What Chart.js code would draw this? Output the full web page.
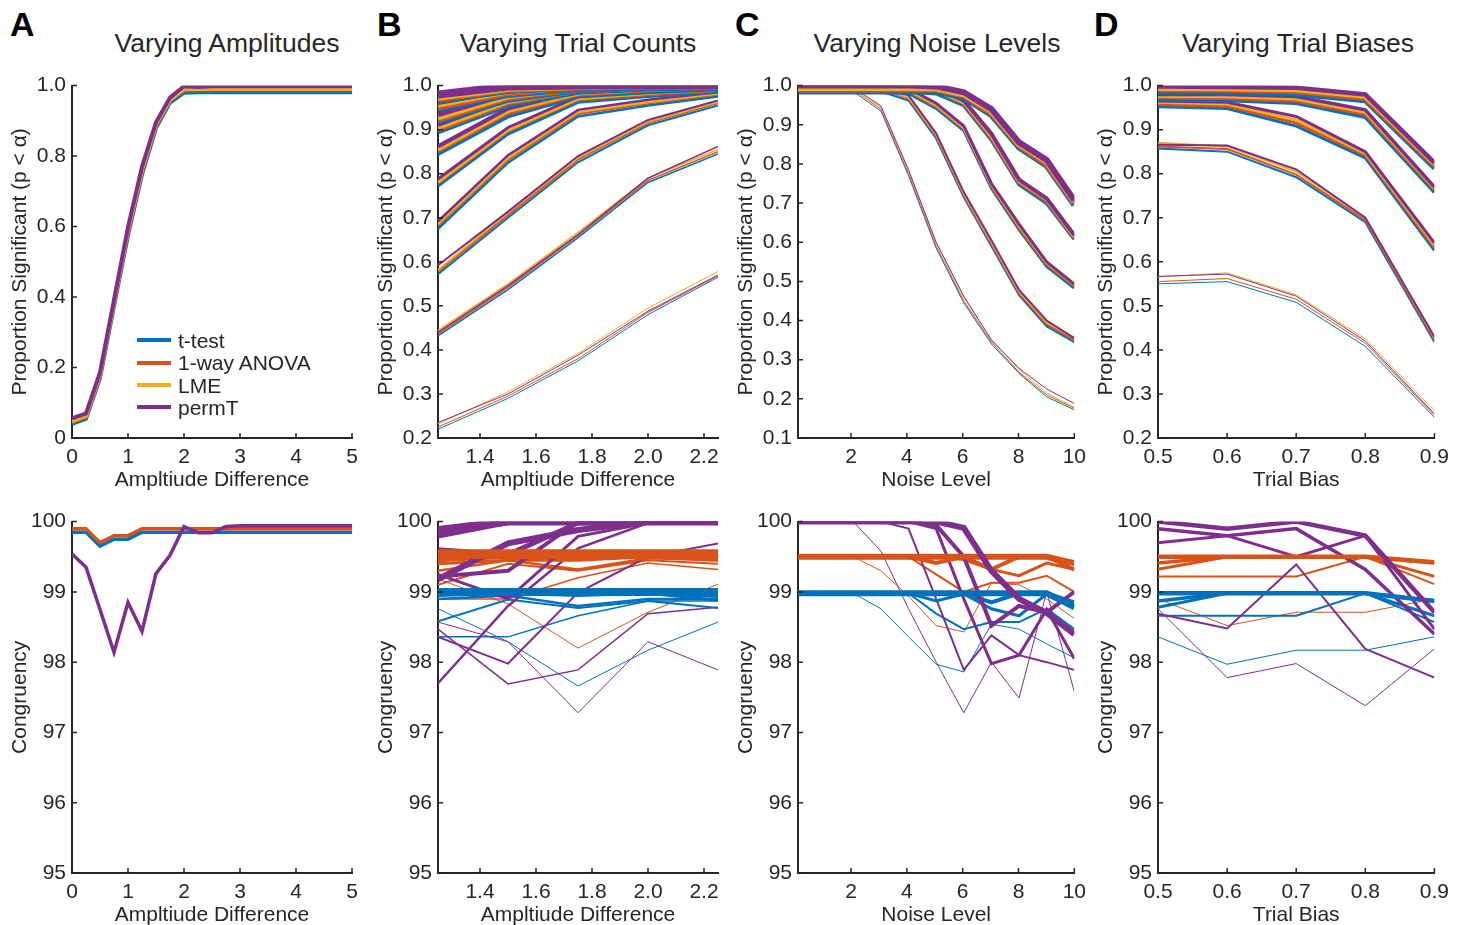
<!DOCTYPE html>
<html lang="en">
<head>
    <meta charset="UTF-8">
    <title>Simulation results</title>
    <script src="https://cdn.jsdelivr.net/npm/chart.js"></script>
    <style>
        body {
            margin: 0;
            width: 1465px;
            height: 925px;
            position: relative;
            background: #ffffff;
            font-family: "Liberation Sans", Arial, sans-serif;
            color: #262626;
            overflow: hidden;
        }
        canvas { position: absolute; }
        .letter {
            position: absolute;
            font-weight: bold;
            font-size: 34px;
            color: #000;
        }
        .title {
            position: absolute;
            font-size: 26.5px;
            transform: translateX(-50%);
            white-space: nowrap;
        }
        .legend {
            position: absolute;
            left: 137px;
            top: 330px;
            font-size: 21px;
            line-height: 22.3px;
        }
        .legend span {
            display: inline-block;
            width: 34px;
            height: 4px;
            margin-right: 7px;
            vertical-align: middle;
            position: relative;
            top: -2px;
        }
    </style>
</head>
<body>

<div class="letter" style="left:10px; top:5px;">A</div>
<div class="letter" style="left:377px; top:5px;">B</div>
<div class="letter" style="left:735px; top:5px;">C</div>
<div class="letter" style="left:1094px; top:5px;">D</div>

<div class="title" style="left:227px; top:28px;">Varying Amplitudes</div>
<div class="title" style="left:578px; top:28px;">Varying Trial Counts</div>
<div class="title" style="left:937px; top:28px;">Varying Noise Levels</div>
<div class="title" style="left:1298px; top:28px;">Varying Trial Biases</div>

<canvas id="aPow"></canvas>
<canvas id="bPow"></canvas>
<canvas id="cPow"></canvas>
<canvas id="dPow"></canvas>
<canvas id="aCon"></canvas>
<canvas id="bCon"></canvas>
<canvas id="cCon"></canvas>
<canvas id="dCon"></canvas>

<div class="legend">
    <div><span style="background:#0072BD"></span>t-test</div>
    <div><span style="background:#D95319"></span>1-way ANOVA</div>
    <div><span style="background:#EDB120"></span>LME</div>
    <div><span style="background:#7E2F8E"></span>permT</div>
</div>

<script>
// ---- x values ----
const xA = [0, 0.25, 0.5, 0.75, 1, 1.25, 1.5, 1.75, 2, 2.25, 2.5, 2.75, 3, 3.25, 3.5, 3.75, 4, 4.25, 4.5, 4.75, 5];
const xB = [1.25, 1.5, 1.75, 2.0, 2.25];
const xC = [0.1, 1.09, 2.08, 3.07, 4.06, 5.05, 6.04, 7.03, 8.02, 9.01, 10];
const xD = [0.5, 0.6, 0.7, 0.8, 0.9];

// ---- tick labels ----
const xTicksA = [0, 1, 2, 3, 4, 5];
const xTicksB = [1.4, 1.6, 1.8, 2.0, 2.2];
const xTicksC = [2, 4, 6, 8, 10];
const xTicksD = [0.5, 0.6, 0.7, 0.8, 0.9];
const yTicksA = [0, 0.2, 0.4, 0.6, 0.8, 1.0];
const yTicksB = [0.2, 0.3, 0.4, 0.5, 0.6, 0.7, 0.8, 0.9, 1.0];
const yTicksC = [0.1, 0.2, 0.3, 0.4, 0.5, 0.6, 0.7, 0.8, 0.9, 1.0];
const yTicksD = [0.2, 0.3, 0.4, 0.5, 0.6, 0.7, 0.8, 0.9, 1.0];
const yTicksCon = [95, 96, 97, 98, 99, 100];

// ---- A: varying amplitudes ----
const aPowT = [0.040, 0.055, 0.170, 0.375, 0.575, 0.748, 0.880, 0.952, 0.980, 0.981, 0.981, 0.981, 0.981, 0.981, 0.981, 0.981, 0.981, 0.981, 0.981, 0.981, 0.981];
const aPowF = [0.045, 0.060, 0.176, 0.382, 0.584, 0.756, 0.887, 0.958, 0.987, 0.987, 0.988, 0.988, 0.988, 0.988, 0.988, 0.988, 0.988, 0.988, 0.988, 0.988, 0.988];
const aPowL = [0.048, 0.063, 0.180, 0.386, 0.590, 0.762, 0.890, 0.960, 0.990, 0.990, 0.991, 0.991, 0.991, 0.991, 0.991, 0.991, 0.991, 0.991, 0.991, 0.991, 0.991];
const aPowP = [0.056, 0.070, 0.186, 0.392, 0.598, 0.770, 0.896, 0.966, 0.998, 0.996, 0.998, 0.998, 0.998, 0.998, 0.998, 0.998, 0.998, 0.998, 0.998, 0.998, 0.998];
const aConT = [99.85, 99.85, 99.65, 99.75, 99.75, 99.85, 99.85, 99.85, 99.85, 99.85, 99.85, 99.85, 99.85, 99.85, 99.85, 99.85, 99.85, 99.85, 99.85, 99.85, 99.85];
const aConF = [99.90, 99.90, 99.70, 99.80, 99.80, 99.90, 99.90, 99.90, 99.90, 99.90, 99.90, 99.90, 99.90, 99.90, 99.90, 99.90, 99.90, 99.90, 99.90, 99.90, 99.90];
const aConP = [99.54, 99.35, 98.75, 98.14, 98.85, 98.44, 99.26, 99.52, 99.93, 99.84, 99.84, 99.93, 99.94, 99.94, 99.94, 99.94, 99.94, 99.94, 99.94, 99.94, 99.94];

// ---- B: varying trial counts (one row per trial count) ----
const bPowT = [
    [0.220, 0.290, 0.375, 0.480, 0.565],
    [0.432, 0.537, 0.655, 0.780, 0.845],
    [0.572, 0.700, 0.826, 0.910, 0.955],
    [0.675, 0.825, 0.930, 0.955, 0.975],
    [0.772, 0.890, 0.962, 0.975, 0.985],
    [0.845, 0.930, 0.975, 0.985, 0.992],
    [0.895, 0.955, 0.985, 0.992, 0.996],
    [0.918, 0.968, 0.990, 0.995, 0.998],
    [0.948, 0.980, 0.994, 0.997, 0.999],
    [0.968, 0.990, 0.997, 0.999, 1.000]
];
const bPowF = [
    [0.225, 0.295, 0.380, 0.485, 0.568],
    [0.436, 0.542, 0.660, 0.785, 0.850],
    [0.578, 0.706, 0.832, 0.915, 0.960],
    [0.682, 0.832, 0.936, 0.960, 0.980],
    [0.778, 0.896, 0.967, 0.979, 0.989],
    [0.851, 0.937, 0.979, 0.989, 0.995],
    [0.900, 0.960, 0.988, 0.994, 0.998],
    [0.923, 0.972, 0.992, 0.997, 0.999],
    [0.952, 0.984, 0.996, 0.998, 1.000],
    [0.971, 0.993, 0.998, 1.000, 1.000]
];
const bPowL = [
    [0.232, 0.305, 0.392, 0.495, 0.578],
    [0.444, 0.550, 0.667, 0.790, 0.855],
    [0.582, 0.712, 0.836, 0.918, 0.963],
    [0.686, 0.836, 0.940, 0.963, 0.982],
    [0.781, 0.899, 0.970, 0.982, 0.991],
    [0.855, 0.942, 0.982, 0.991, 0.996],
    [0.905, 0.964, 0.990, 0.996, 0.999],
    [0.928, 0.976, 0.994, 0.998, 1.000],
    [0.958, 0.988, 0.997, 0.999, 1.000],
    [0.975, 0.995, 0.999, 1.000, 1.000]
];
const bPowP = [
    [0.235, 0.300, 0.388, 0.488, 0.570],
    [0.440, 0.546, 0.662, 0.790, 0.862],
    [0.592, 0.714, 0.840, 0.922, 0.966],
    [0.692, 0.842, 0.945, 0.968, 0.985],
    [0.788, 0.905, 0.975, 0.986, 0.994],
    [0.862, 0.948, 0.987, 0.994, 0.998],
    [0.912, 0.970, 0.994, 0.998, 1.000],
    [0.935, 0.982, 0.997, 0.999, 1.000],
    [0.964, 0.992, 0.999, 1.000, 1.000],
    [0.980, 0.998, 1.000, 1.000, 1.000]
];
const bConT = [
    [98.76, 98.29, 97.66, 98.17, 98.57],
    [98.36, 98.36, 98.66, 98.87, 98.87],
    [98.58, 98.89, 98.77, 98.87, 98.77],
    [98.90, 98.95, 98.80, 98.90, 98.90],
    [98.95, 98.98, 98.95, 98.98, 98.88],
    [98.98, 98.98, 98.98, 98.98, 98.98],
    [99.00, 98.98, 99.00, 99.00, 98.95],
    [98.98, 99.00, 98.98, 99.00, 99.00],
    [99.00, 99.00, 99.00, 99.00, 99.00],
    [99.00, 99.00, 99.00, 99.00, 99.00]
];
const bConF = [
    [99.18, 98.83, 98.20, 98.71, 99.11],
    [98.90, 98.90, 99.20, 99.41, 99.32],
    [99.10, 99.40, 99.30, 99.45, 99.40],
    [99.30, 99.45, 99.32, 99.48, 99.45],
    [99.40, 99.45, 99.45, 99.50, 99.45],
    [99.45, 99.50, 99.50, 99.50, 99.50],
    [99.50, 99.50, 99.50, 99.52, 99.48],
    [99.50, 99.52, 99.52, 99.52, 99.52],
    [99.52, 99.52, 99.52, 99.52, 99.52],
    [99.55, 99.55, 99.55, 99.55, 99.55]
];
const bConP = [
    [98.57, 98.29, 97.28, 98.29, 97.89],
    [98.47, 97.69, 97.89, 98.69, 98.78],
    [98.36, 97.98, 98.99, 99.50, 99.69],
    [97.70, 98.80, 99.62, 99.98, 100.0],
    [99.25, 98.90, 99.79, 99.98, 100.0],
    [99.22, 99.30, 100.0, 100.0, 100.0],
    [99.60, 99.53, 99.98, 100.0, 100.0],
    [99.18, 99.69, 99.88, 100.0, 100.0],
    [99.81, 100.0, 100.0, 100.0, 100.0],
    [99.88, 100.0, 100.0, 100.0, 100.0]
];

// ---- C: varying noise levels (one row per trial count) ----
const cPowT = [
    [0.985, 0.985, 0.985, 0.935, 0.770, 0.585, 0.445, 0.340, 0.265, 0.205, 0.172],
    [0.985, 0.985, 0.985, 0.985, 0.962, 0.865, 0.715, 0.590, 0.465, 0.385, 0.345],
    [0.985, 0.985, 0.985, 0.985, 0.980, 0.942, 0.885, 0.738, 0.632, 0.538, 0.483],
    [0.985, 0.985, 0.985, 0.985, 0.985, 0.980, 0.950, 0.862, 0.748, 0.700, 0.608],
    [0.985, 0.985, 0.985, 0.985, 0.985, 0.985, 0.970, 0.925, 0.842, 0.795, 0.695]
];
const cPowF = [
    [0.990, 0.990, 0.990, 0.940, 0.775, 0.590, 0.450, 0.345, 0.268, 0.210, 0.176],
    [0.990, 0.990, 0.990, 0.990, 0.967, 0.870, 0.720, 0.595, 0.470, 0.390, 0.350],
    [0.990, 0.990, 0.990, 0.990, 0.985, 0.947, 0.890, 0.743, 0.637, 0.543, 0.488],
    [0.990, 0.990, 0.990, 0.990, 0.990, 0.985, 0.955, 0.867, 0.753, 0.705, 0.612],
    [0.990, 0.990, 0.990, 0.990, 0.990, 0.990, 0.975, 0.930, 0.847, 0.800, 0.700]
];
const cPowL = [
    [0.990, 0.990, 0.990, 0.945, 0.782, 0.598, 0.458, 0.352, 0.275, 0.215, 0.178],
    [0.992, 0.992, 0.992, 0.990, 0.970, 0.874, 0.724, 0.600, 0.474, 0.395, 0.356],
    [0.992, 0.992, 0.992, 0.992, 0.988, 0.950, 0.893, 0.747, 0.642, 0.548, 0.492],
    [0.993, 0.993, 0.993, 0.993, 0.993, 0.988, 0.958, 0.872, 0.757, 0.710, 0.615],
    [0.994, 0.994, 0.994, 0.994, 0.994, 0.993, 0.978, 0.935, 0.851, 0.806, 0.704]
];
const cPowP = [
    [0.995, 0.995, 0.995, 0.948, 0.785, 0.600, 0.462, 0.350, 0.278, 0.225, 0.188],
    [1.000, 1.000, 1.000, 0.995, 0.975, 0.878, 0.728, 0.605, 0.478, 0.400, 0.355],
    [1.000, 1.000, 1.000, 1.000, 0.993, 0.955, 0.897, 0.750, 0.646, 0.550, 0.493],
    [1.000, 1.000, 1.000, 1.000, 1.000, 0.992, 0.962, 0.877, 0.760, 0.712, 0.618],
    [1.000, 1.000, 1.000, 1.000, 1.000, 0.998, 0.983, 0.940, 0.855, 0.810, 0.707]
];
const cConT = [
    [98.98, 98.98, 98.98, 98.76, 98.36, 97.97, 97.86, 98.54, 98.47, 98.26, 98.06],
    [98.98, 98.98, 98.98, 98.98, 98.98, 98.69, 98.47, 98.57, 98.57, 98.76, 98.47],
    [98.98, 98.98, 98.98, 98.98, 98.98, 98.87, 98.97, 98.76, 98.66, 98.97, 98.78],
    [98.98, 98.98, 98.98, 98.98, 98.98, 98.98, 98.98, 98.85, 98.98, 98.98, 98.85],
    [98.98, 98.98, 98.98, 98.98, 98.98, 98.98, 98.98, 98.98, 98.98, 98.98, 98.78]
];
const cConF = [
    [99.50, 99.50, 99.50, 99.30, 98.94, 98.52, 98.43, 99.13, 99.10, 98.90, 98.62],
    [99.50, 99.50, 99.50, 99.50, 99.50, 99.25, 99.00, 99.13, 99.13, 99.23, 99.00],
    [99.50, 99.50, 99.50, 99.50, 99.50, 99.50, 99.46, 99.32, 99.23, 99.41, 99.32],
    [99.50, 99.50, 99.50, 99.50, 99.50, 99.41, 99.50, 99.32, 99.50, 99.50, 99.32],
    [99.50, 99.50, 99.50, 99.50, 99.50, 99.50, 99.50, 99.50, 99.50, 99.50, 99.41]
];
const cConP = [
    [100.0, 100.0, 100.0, 99.58, 98.76, 98.00, 97.28, 98.00, 97.49, 99.00, 97.58],
    [100.0, 100.0, 100.0, 100.0, 99.90, 98.90, 97.89, 98.38, 98.10, 98.00, 97.89],
    [100.0, 100.0, 100.0, 100.0, 100.0, 99.90, 98.90, 97.98, 98.10, 98.75, 98.05],
    [100.0, 100.0, 100.0, 100.0, 100.0, 99.95, 99.50, 98.52, 98.80, 98.71, 99.00],
    [100.0, 100.0, 100.0, 100.0, 100.0, 100.0, 99.91, 99.30, 98.90, 98.70, 98.40]
];

// ---- D: varying trial biases (one row per trial count) ----
const dPowT = [
    [0.550, 0.555, 0.508, 0.408, 0.247],
    [0.857, 0.850, 0.792, 0.690, 0.418],
    [0.952, 0.948, 0.908, 0.836, 0.626],
    [0.968, 0.966, 0.960, 0.928, 0.758],
    [0.985, 0.984, 0.980, 0.965, 0.812]
];
const dPowF = [
    [0.555, 0.562, 0.515, 0.415, 0.252],
    [0.862, 0.856, 0.798, 0.695, 0.423],
    [0.957, 0.953, 0.915, 0.842, 0.632],
    [0.973, 0.971, 0.965, 0.935, 0.764],
    [0.990, 0.989, 0.986, 0.970, 0.818]
];
const dPowL = [
    [0.565, 0.575, 0.525, 0.425, 0.262],
    [0.870, 0.862, 0.805, 0.700, 0.428],
    [0.962, 0.958, 0.922, 0.846, 0.638],
    [0.976, 0.975, 0.970, 0.940, 0.768],
    [0.993, 0.992, 0.990, 0.975, 0.822]
];
const dPowP = [
    [0.567, 0.572, 0.522, 0.420, 0.255],
    [0.866, 0.864, 0.810, 0.700, 0.430],
    [0.965, 0.962, 0.930, 0.850, 0.643],
    [0.980, 0.980, 0.975, 0.945, 0.770],
    [0.998, 0.997, 0.995, 0.980, 0.825]
];
const dConT = [
    [98.36, 97.97, 98.17, 98.17, 98.36],
    [98.66, 98.66, 98.66, 98.98, 98.57],
    [98.78, 98.98, 98.98, 98.98, 98.66],
    [98.87, 98.98, 98.98, 98.98, 98.87],
    [98.98, 98.98, 98.98, 98.98, 98.87]
];
const dConF = [
    [98.90, 98.52, 98.71, 98.71, 98.90],
    [99.22, 99.22, 99.22, 99.50, 99.11],
    [99.32, 99.50, 99.50, 99.50, 99.22],
    [99.41, 99.50, 99.50, 99.50, 99.41],
    [99.50, 99.50, 99.50, 99.50, 99.42]
];
const dConP = [
    [98.76, 97.78, 97.98, 97.38, 98.19],
    [98.69, 98.48, 99.39, 98.19, 97.78],
    [99.70, 99.80, 99.50, 99.80, 98.47],
    [99.90, 99.80, 99.90, 99.32, 98.40],
    [100.0, 99.90, 100.0, 99.80, 98.71]
];

// ---- styles ----
const BLUE = '#0072BD', ORANGE = '#D95319', YELLOW = '#EDB120', PURPLE = '#7E2F8E';
const TEXT = '#262626';
const widthsB = [1, 1.5, 2, 2.5, 3, 4, 5, 6, 7, 8];
const widthsC = [1, 2, 3, 4, 6];
const widthsD = [1, 2, 3, 3.5, 4.5];

function line(x, y, color, width) {
    return {
        data: x.map((v, i) => ({ x: v, y: y[i] })),
        borderColor: color,
        borderWidth: width,
        pointRadius: 0,
        tension: 0,
        fill: false
    };
}

// methods: list of [color, rows]; painted group by group, later ones on top
function grouped(x, methods, widths) {
    const sets = [];
    for (let g = 0; g < widths.length; g++) {
        methods.forEach(([color, rows]) => sets.push(line(x, rows[g], color, widths[g])));
    }
    return sets.reverse(); // chart.js draws the first dataset last
}

// inward tick marks, matlab style
const innerTicks = {
    id: 'innerTicks',
    afterDatasetsDraw(chart) {
        const ctx = chart.ctx;
        const xs = chart.scales.x, ys = chart.scales.y;
        ctx.save();
        ctx.strokeStyle = TEXT;
        ctx.lineWidth = 1.5;
        ctx.beginPath();
        xs.ticks.forEach(t => {
            const px = xs.getPixelForValue(t.value);
            ctx.moveTo(px, ys.bottom);
            ctx.lineTo(px, ys.bottom - 5);
        });
        ys.ticks.forEach(t => {
            const py = ys.getPixelForValue(t.value);
            ctx.moveTo(xs.left, py);
            ctx.lineTo(xs.left + 5, py);
        });
        ctx.stroke();
        ctx.restore();
    }
};

const font = { family: '"Liberation Sans", Arial, sans-serif', size: 21 };

function makeChart(id, box, datasets, xo, yo) {
    const padTop = 14, padRight = 18, yW = 72, xH = 56;
    const cv = document.getElementById(id);
    const w = box.w + yW + padRight, h = box.h + padTop + xH;
    cv.style.left = (box.left - yW) + 'px';
    cv.style.top = (box.top - padTop) + 'px';
    cv.style.width = w + 'px';
    cv.style.height = h + 'px';
    cv.width = w;
    cv.height = h;

    new Chart(cv, {
        type: 'line',
        data: { datasets: datasets },
        plugins: [innerTicks],
        options: {
            responsive: false,
            animation: false,
            events: [],
            layout: { padding: { top: padTop, right: padRight, left: 0, bottom: 0 } },
            plugins: { legend: { display: false }, tooltip: { enabled: false } },
            scales: {
                x: {
                    type: 'linear',
                    min: xo.min,
                    max: xo.max,
                    afterBuildTicks: s => { s.ticks = xo.ticks.map(v => ({ value: v })); },
                    afterFit: s => { s.height = xH; },
                    grid: { display: false, drawTicks: false },
                    border: { display: true, color: TEXT, width: 2 },
                    ticks: {
                        font: font, color: TEXT, padding: 7,
                        maxRotation: 0, autoSkip: false,
                        callback: xo.fmt
                    },
                    title: { display: true, text: xo.title, font: font, color: TEXT, padding: { top: 0, bottom: 1 } }
                },
                y: {
                    type: 'linear',
                    min: yo.min,
                    max: yo.max,
                    afterBuildTicks: s => { s.ticks = yo.ticks.map(v => ({ value: v })); },
                    afterFit: s => { s.width = yW; },
                    grid: { display: false, drawTicks: false },
                    border: { display: true, color: TEXT, width: 2 },
                    ticks: {
                        font: font, color: TEXT, padding: 6,
                        autoSkip: false,
                        callback: yo.fmt
                    },
                    title: { display: true, text: yo.title, font: font, color: TEXT, padding: { top: 8, bottom: 0 } }
                }
            }
        }
    });
}

const fmt1 = v => (v === 0 ? '0' : v.toFixed(1));
const fmtInt = v => String(v);
const powTitle = 'Proportion Significant (p < \u03b1)';

const boxesTop = [
    { left: 72, top: 81, w: 280, h: 357 },
    { left: 438, top: 81, w: 280, h: 357 },
    { left: 798, top: 81, w: 277, h: 357 },
    { left: 1158, top: 81, w: 280, h: 357 }
];
const boxesBot = boxesTop.map(b => ({ left: b.left, top: 517, w: b.w, h: 356 }));

// top row
makeChart('aPow', boxesTop[0],
    [line(xA, aPowP, PURPLE, 4), line(xA, aPowL, YELLOW, 4), line(xA, aPowF, ORANGE, 4), line(xA, aPowT, BLUE, 4)],
    { min: 0, max: 5, ticks: xTicksA, fmt: fmtInt, title: 'Ampltiude Difference' },
    { min: 0, max: 1, ticks: yTicksA, fmt: fmt1, title: powTitle });
makeChart('bPow', boxesTop[1],
    grouped(xB, [[BLUE, bPowT], [ORANGE, bPowF], [YELLOW, bPowL], [PURPLE, bPowP]], widthsB),
    { min: 1.25, max: 2.25, ticks: xTicksB, fmt: v => v.toFixed(1), title: 'Ampltiude Difference' },
    { min: 0.2, max: 1, ticks: yTicksB, fmt: fmt1, title: powTitle });
makeChart('cPow', boxesTop[2],
    grouped(xC, [[BLUE, cPowT], [ORANGE, cPowF], [YELLOW, cPowL], [PURPLE, cPowP]], widthsC),
    { min: 0.1, max: 10, ticks: xTicksC, fmt: fmtInt, title: 'Noise Level' },
    { min: 0.1, max: 1, ticks: yTicksC, fmt: fmt1, title: powTitle });
makeChart('dPow', boxesTop[3],
    grouped(xD, [[BLUE, dPowT], [ORANGE, dPowF], [YELLOW, dPowL], [PURPLE, dPowP]], widthsD),
    { min: 0.5, max: 0.9, ticks: xTicksD, fmt: v => v.toFixed(1), title: 'Trial Bias' },
    { min: 0.2, max: 1, ticks: yTicksD, fmt: fmt1, title: powTitle });

// bottom row
makeChart('aCon', boxesBot[0],
    [line(xA, aConP, PURPLE, 3.5), line(xA, aConF, ORANGE, 3.5), line(xA, aConT, BLUE, 3.5)],
    { min: 0, max: 5, ticks: xTicksA, fmt: fmtInt, title: 'Ampltiude Difference' },
    { min: 95, max: 100, ticks: yTicksCon, fmt: fmtInt, title: 'Congruency' });
makeChart('bCon', boxesBot[1],
    grouped(xB, [[BLUE, bConT], [ORANGE, bConF], [PURPLE, bConP]], widthsB),
    { min: 1.25, max: 2.25, ticks: xTicksB, fmt: v => v.toFixed(1), title: 'Ampltiude Difference' },
    { min: 95, max: 100, ticks: yTicksCon, fmt: fmtInt, title: 'Congruency' });
makeChart('cCon', boxesBot[2],
    grouped(xC, [[BLUE, cConT], [ORANGE, cConF], [PURPLE, cConP]], widthsC),
    { min: 0.1, max: 10, ticks: xTicksC, fmt: fmtInt, title: 'Noise Level' },
    { min: 95, max: 100, ticks: yTicksCon, fmt: fmtInt, title: 'Congruency' });
makeChart('dCon', boxesBot[3],
    grouped(xD, [[BLUE, dConT], [ORANGE, dConF], [PURPLE, dConP]], widthsD),
    { min: 0.5, max: 0.9, ticks: xTicksD, fmt: v => v.toFixed(1), title: 'Trial Bias' },
    { min: 95, max: 100, ticks: yTicksCon, fmt: fmtInt, title: 'Congruency' });
</script>

</body>
</html>
